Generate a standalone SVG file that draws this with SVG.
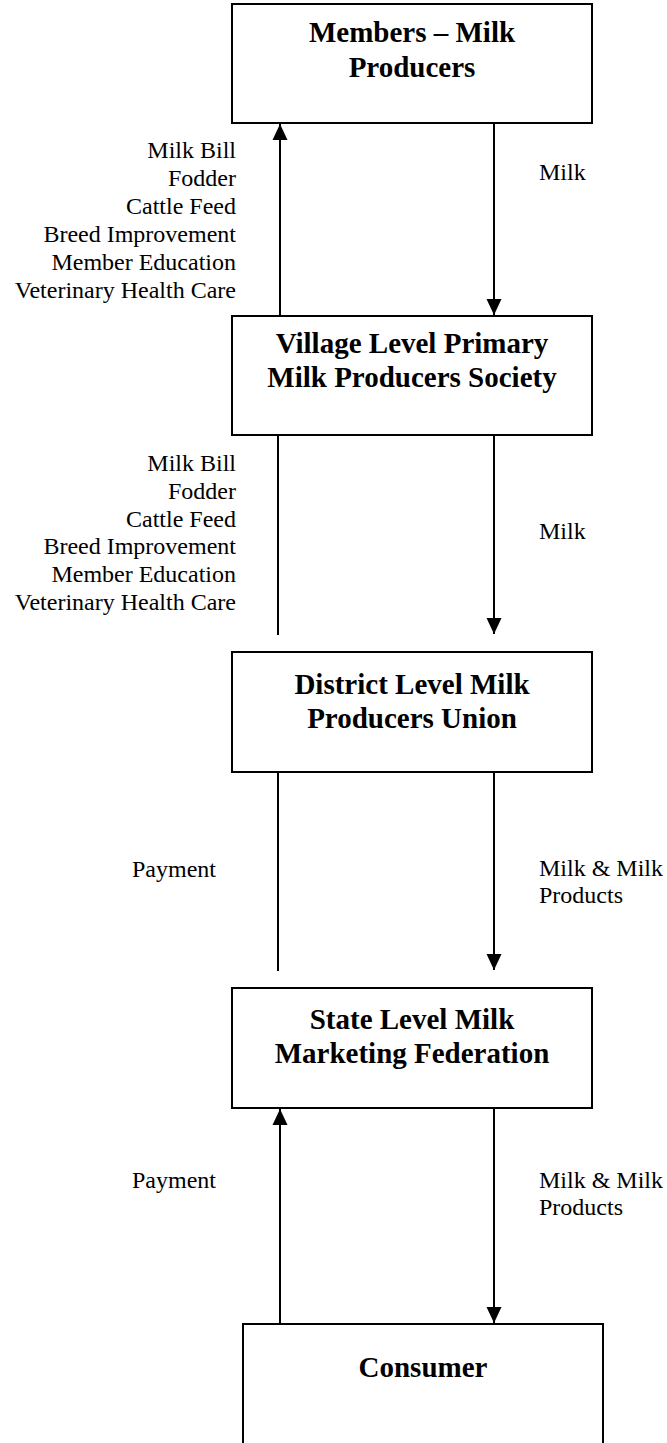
<svg xmlns="http://www.w3.org/2000/svg" width="667" height="1443" viewBox="0 0 667 1443">
  <style>
    .box { fill: #ffffff; stroke: #000000; stroke-width: 2; }
    .title { font-family: "Liberation Serif", "Times New Roman", serif; font-weight: bold; font-size: 29px; fill: #000000; text-anchor: middle; }
    .lbl { font-family: "Liberation Serif", "Times New Roman", serif; font-size: 24px; fill: #000000; }
    .lblR { text-anchor: end; }
    .conn { stroke: #000000; stroke-width: 2; fill: none; }
    .arr { marker-end: url(#ah); }
  </style>
  <defs>
    <marker id="ah" markerUnits="userSpaceOnUse" markerWidth="16" markerHeight="16" viewBox="0 0 16 16" refX="16" refY="8" orient="auto">
      <path d="M0,0.5 L16,8 L0,15.5 z" fill="#000000"/>
    </marker>
  </defs>
  <rect width="667" height="1443" fill="#ffffff"/>

  <g id="members">
    <rect class="box" x="232" y="4" width="360" height="119"/>
    <text class="title" x="412" y="42">Members – Milk</text>
    <text class="title" x="412" y="77">Producers</text>
  </g>

  <g id="village">
    <rect class="box" x="232" y="316" width="360" height="119"/>
    <text class="title" x="412" y="353">Village Level Primary</text>
    <text class="title" x="412" y="387">Milk Producers Society</text>
  </g>

  <g id="district">
    <rect class="box" x="232" y="652" width="360" height="120"/>
    <text class="title" x="412" y="694">District Level Milk</text>
    <text class="title" x="412" y="728">Producers Union</text>
  </g>

  <g id="state">
    <rect class="box" x="232" y="988" width="360" height="120"/>
    <text class="title" x="412" y="1029">State Level Milk</text>
    <text class="title" x="412" y="1063">Marketing Federation</text>
  </g>

  <g id="consumer">
    <rect class="box" x="243" y="1324" width="360" height="140"/>
    <text class="title" x="423" y="1377">Consumer</text>
  </g>

  <g id="connectors">
    <line class="conn arr" x1="280" y1="316" x2="280" y2="124"/>
    <line class="conn arr" x1="494" y1="123" x2="494" y2="315"/>
    <line class="conn" x1="278" y1="435" x2="278" y2="635"/>
    <line class="conn arr" x1="494" y1="435" x2="494" y2="634"/>
    <line class="conn" x1="278" y1="772" x2="278" y2="971"/>
    <line class="conn arr" x1="494" y1="772" x2="494" y2="970"/>
    <line class="conn arr" x1="280" y1="1324" x2="280" y2="1109"/>
    <line class="conn arr" x1="494" y1="1108" x2="494" y2="1323"/>
  </g>

  <g id="labels">
    <text class="lbl lblR" x="236" y="158">Milk Bill</text>
    <text class="lbl lblR" x="236" y="186">Fodder</text>
    <text class="lbl lblR" x="236" y="214">Cattle Feed</text>
    <text class="lbl lblR" x="236" y="242">Breed Improvement</text>
    <text class="lbl lblR" x="236" y="270">Member Education</text>
    <text class="lbl lblR" x="236" y="298">Veterinary Health Care</text>
    <text class="lbl" x="539" y="180">Milk</text>

    <text class="lbl lblR" x="236" y="471">Milk Bill</text>
    <text class="lbl lblR" x="236" y="498.8">Fodder</text>
    <text class="lbl lblR" x="236" y="526.6">Cattle Feed</text>
    <text class="lbl lblR" x="236" y="554.4">Breed Improvement</text>
    <text class="lbl lblR" x="236" y="582.2">Member Education</text>
    <text class="lbl lblR" x="236" y="610">Veterinary Health Care</text>
    <text class="lbl" x="539" y="539">Milk</text>

    <text class="lbl" x="132" y="877">Payment</text>
    <text class="lbl" x="539" y="876">Milk &amp; Milk</text>
    <text class="lbl" x="539" y="903">Products</text>

    <text class="lbl" x="132" y="1188">Payment</text>
    <text class="lbl" x="539" y="1188">Milk &amp; Milk</text>
    <text class="lbl" x="539" y="1215">Products</text>
  </g>
</svg>
